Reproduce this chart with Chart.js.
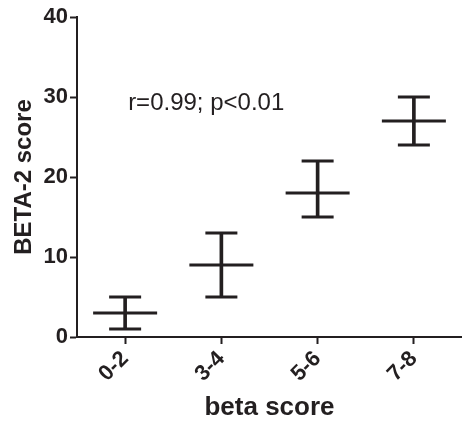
<!DOCTYPE html>
<html>
<head>
<meta charset="utf-8">
<script src="https://cdn.jsdelivr.net/npm/chart.js@4"></script>
<style>
  html, body { margin: 0; padding: 0; background: #fff; }
  #wrap { width: 462px; height: 426px; }
</style>
</head>
<body>
<div id="wrap"><canvas id="c" width="462" height="426"></canvas></div>
<script>
const categories = ['0-2', '3-4', '5-6', '7-8'];
const means = [3, 9, 18, 27];
const lows = [1, 5, 15, 24];
const highs = [5, 13, 22, 30];
const yTicks = [0, 10, 20, 30, 40];
const annotationText = 'r=0.99; p<0.01';
const xTitle = 'beta score';
const yTitle = 'BETA-2 score';

const INK = '#231f20';
const FONT = "'Liberation Sans', Arial, Helvetica, sans-serif";

const annotationPlugin = {
  id: 'annot',
  afterDatasetsDraw(chart) {
    const { ctx, scales } = chart;
    ctx.save();
    ctx.fillStyle = INK;
    ctx.font = '24px ' + FONT;
    ctx.textAlign = 'left';
    ctx.textBaseline = 'middle';
    const x = scales.x.getPixelForValue(0) + 3;
    const y = scales.y.getPixelForValue(29.2);
    ctx.fillText(annotationText, x, y);
    ctx.restore();
  }
};

const pointDs = (data, radius) => ({
  type: 'line',
  data: data,
  showLine: false,
  pointStyle: 'line',
  pointRadius: radius,
  pointHoverRadius: radius,
  pointBorderWidth: 3,
  pointHoverBorderWidth: 3,
  borderColor: INK,
  backgroundColor: INK,
  clip: false,
  order: 0
});

new Chart(document.getElementById('c'), {
  data: {
    labels: categories,
    datasets: [
      {
        type: 'bar',
        data: lows.map((l, i) => [l, highs[i]]),
        backgroundColor: INK,
        borderWidth: 0,
        barThickness: 3,
        order: 1
      },
      pointDs(means, 32),
      pointDs(lows, 16),
      pointDs(highs, 16)
    ]
  },
  options: {
    responsive: false,
    animation: false,
    events: [],
    layout: { autoPadding: false, padding: { left: 0, right: 0, top: 17, bottom: 0 } },
    plugins: { legend: { display: false }, tooltip: { enabled: false } },
    scales: {
      x: {
        type: 'category',
        offset: true,
        grid: { display: true, drawOnChartArea: false, drawTicks: true, tickLength: 7, tickWidth: 2, tickColor: INK, offset: false },
        border: { display: true, color: INK, width: 2 },
        ticks: {
          color: INK,
          font: { family: FONT, size: 22, weight: 'bold' },
          minRotation: 45,
          maxRotation: 45,
          padding: 2
        },
        title: {
          display: true,
          text: xTitle,
          color: INK,
          font: { family: FONT, size: 26, weight: 'bold', lineHeight: 1.2 },
          padding: { top: 0, bottom: 3 }
        },
        afterFit(scale) {
          scale.height = 89;
          scale.paddingLeft = 0;
          scale.paddingRight = 0;
        }
      },
      y: {
        type: 'linear',
        min: 0,
        max: 40,
        afterBuildTicks(axis) { axis.ticks = yTicks.map(v => ({ value: v })); },
        grid: { display: true, drawOnChartArea: false, drawTicks: true, tickLength: 7, tickWidth: 2, tickColor: INK },
        border: { display: true, color: INK, width: 2 },
        ticks: {
          color: INK,
          font: { family: FONT, size: 22, weight: 'bold' },
          padding: 2
        },
        title: {
          display: true,
          text: yTitle,
          color: INK,
          font: { family: FONT, size: 24, weight: 'bold', lineHeight: 1.2 },
          padding: { top: 10, bottom: 0 }
        },
        afterFit(scale) {
          scale.width = 77;
          scale.paddingTop = 0;
          scale.paddingBottom = 0;
        }
      }
    }
  },
  plugins: [annotationPlugin]
});
</script>
</body>
</html>
